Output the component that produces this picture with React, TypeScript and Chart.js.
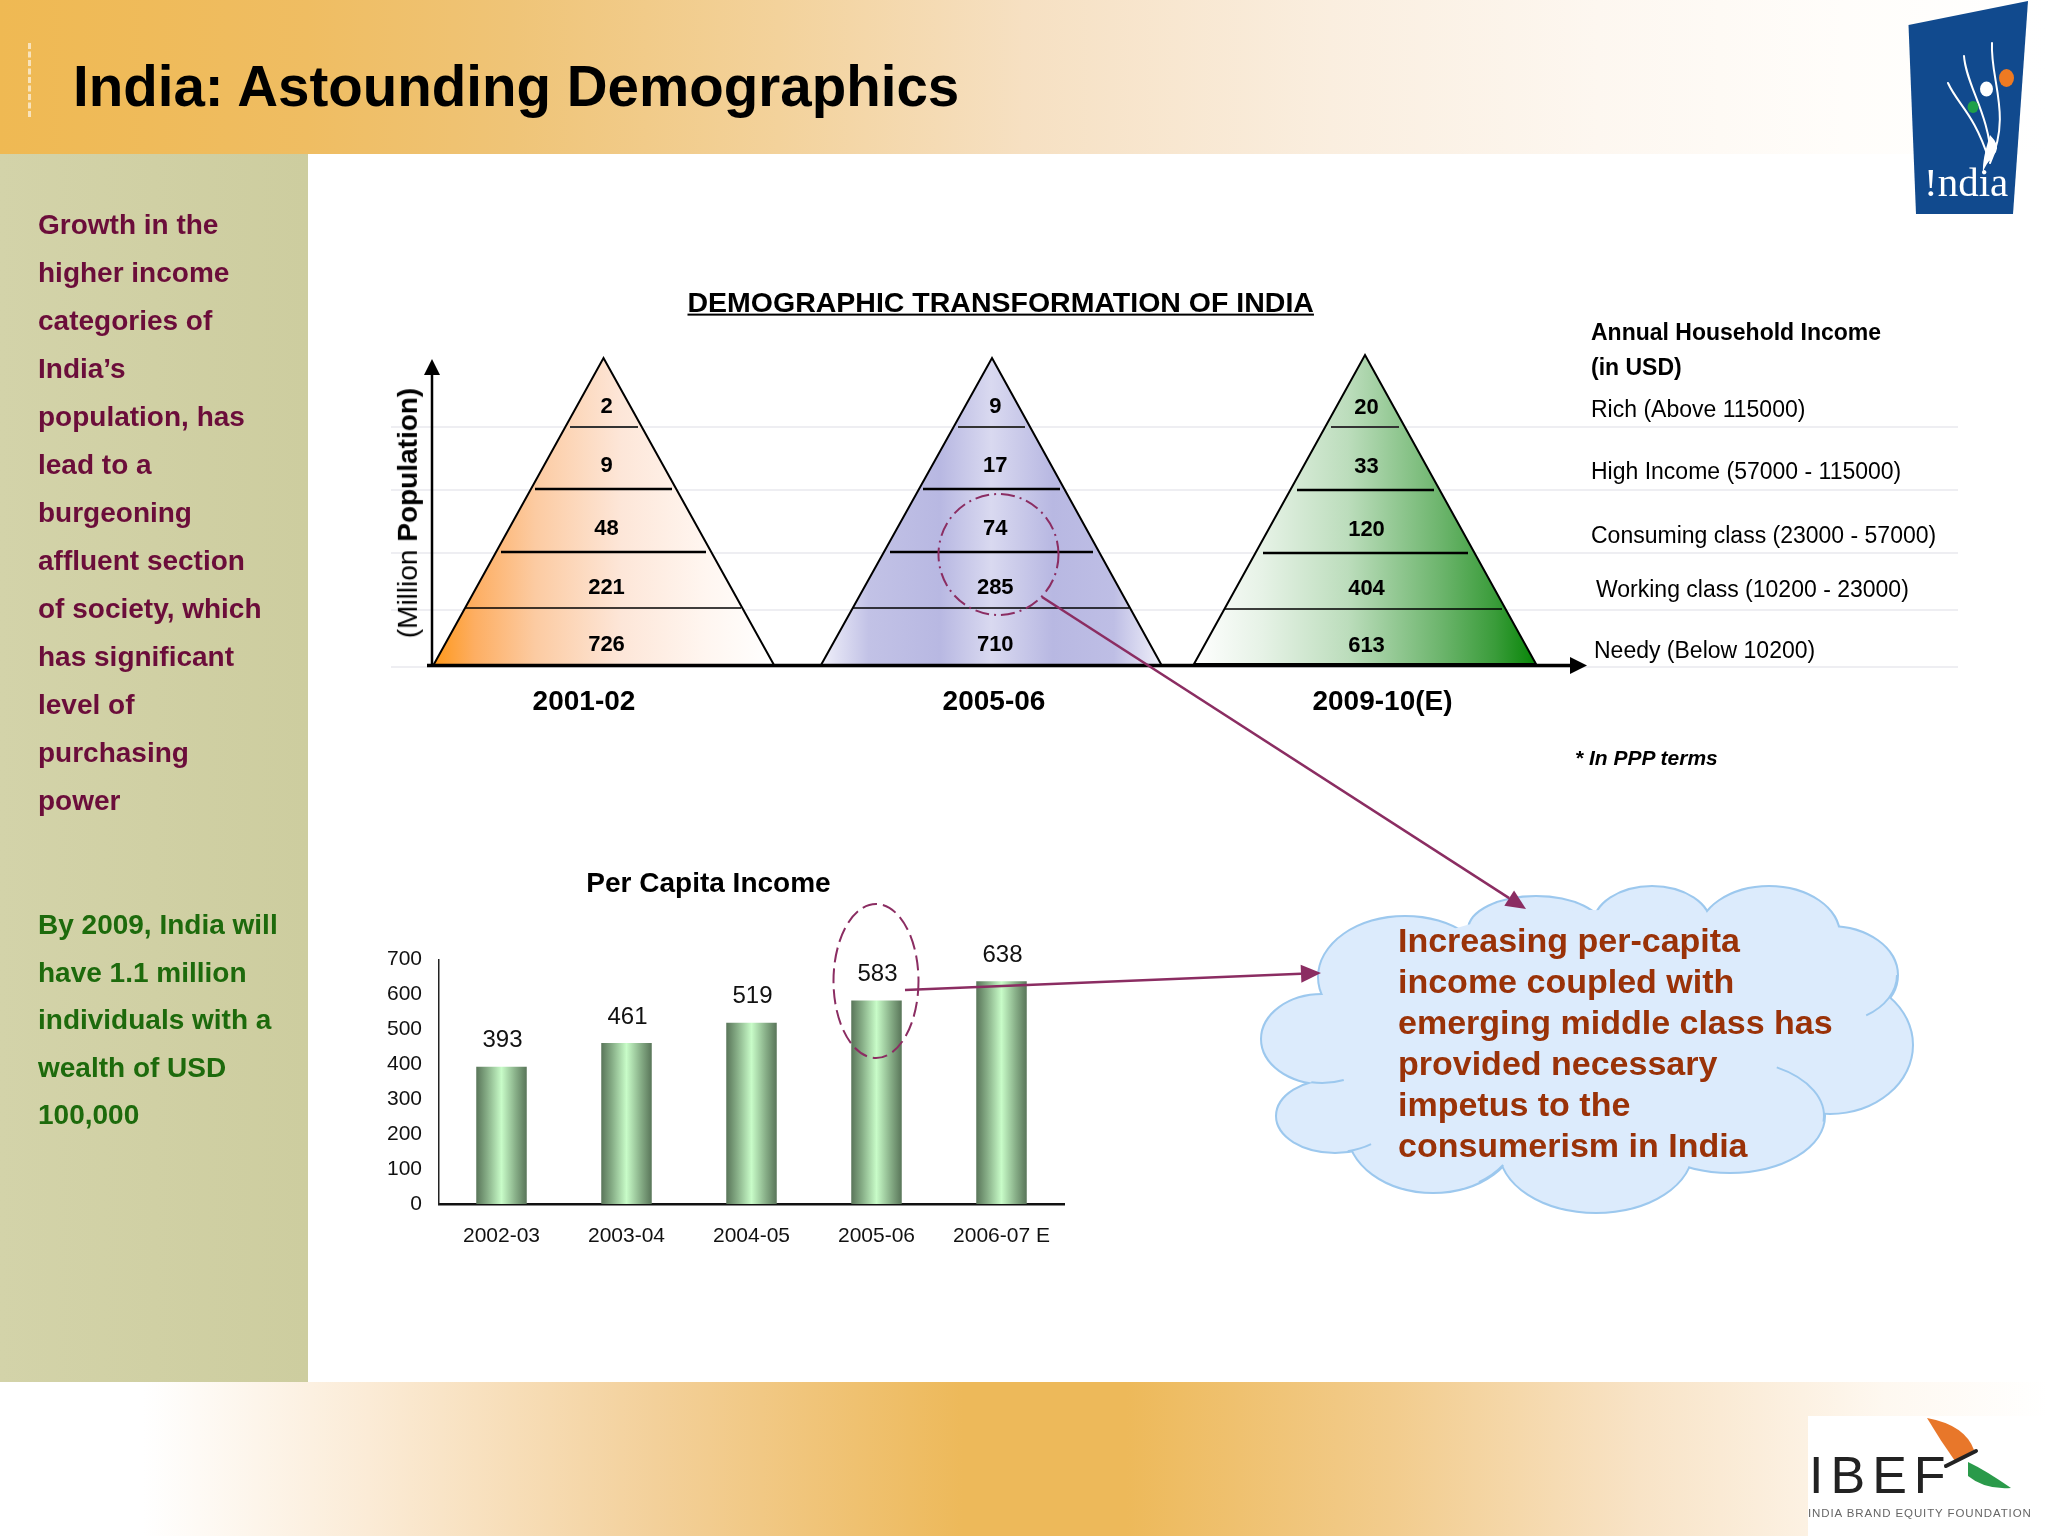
import React, { useEffect, useRef } from "react";
import { Chart, registerables } from "chart.js";

Chart.register(...registerables);

const FONT = '"Liberation Sans", Arial, sans-serif';

// ---- data ----
const periods = ["2001-02", "2005-06", "2009-10(E)"];
const incomeClasses = [
  "Rich (Above 115000)",
  "High Income (57000 - 115000)",
  "Consuming class (23000 - 57000)",
  "Working class (10200 - 23000)",
  "Needy (Below 10200)",
];
const pop2001 = [2, 9, 48, 221, 726];
const pop2005 = [9, 17, 74, 285, 710];
const pop2009 = [20, 33, 120, 404, 613];

const incomeYears = ["2002-03", "2003-04", "2004-05", "2005-06", "2006-07 E"];
const perCapitaIncome = [393, 461, 519, 583, 638];

const sideText = [
  "Growth in the",
  "higher income",
  "categories of",
  "India’s",
  "population, has",
  "lead to a",
  "burgeoning",
  "affluent section",
  "of society, which",
  "has significant",
  "level of",
  "purchasing",
  "power",
];
const sideText2 = [
  "By 2009, India will",
  "have 1.1 million",
  "individuals with a",
  "wealth of USD",
  "100,000",
];
const cloudText = [
  "Increasing per-capita",
  "income coupled with",
  "emerging middle class has",
  "provided necessary",
  "impetus to the",
  "consumerism in India",
];

// ---- pyramid figure layout (page pixels), separate from the data ----
const gridLevels = [427, 490, 553, 610, 667];
const pyrShape = [
  { cx: 603.5, l: 433.5, r: 774, top: 358, base: 665, rows: [[570, 638, 427], [535, 672, 489], [501, 706, 552], [465, 741, 608]] },
  { cx: 992, l: 821, r: 1161.5, top: 358, base: 665, rows: [[958, 1025, 427], [923, 1060, 489], [890, 1093, 552], [853, 1129, 608]] },
  { cx: 1365, l: 1194, r: 1536, top: 355, base: 664, rows: [[1331, 1399, 427], [1297, 1434, 490], [1263, 1468, 553], [1225, 1502, 609]] },
];
const pyrStops: [number, string][][] = [
  [[0, "#FF981A"], [0.12, "#FDAE62"], [0.3, "#FCCBA2"], [0.55, "#FDE6D8"], [0.8, "#FFF6F0"], [1, "#FFFFFF"]],
  [[0, "#F0F0FA"], [0.14, "#C2C2E6"], [0.35, "#B8B8E2"], [0.5, "#D9D9F0"], [0.68, "#B8B8E2"], [0.86, "#BEBEE5"], [1, "#F0F0FA"]],
  [[0, "#FFFFFF"], [0.2, "#E6F2E6"], [0.45, "#BCDDBC"], [0.72, "#6DB56D"], [0.88, "#3A9C3A"], [1, "#078507"]],
];
const valueY = [407, 466, 529, 588, 645];
const periodLabelX = [584, 994, 1382.5];

const pyramidPlugin = {
  id: "pyramids",
  afterDraw(chart: any) {
    const c = chart.ctx as CanvasRenderingContext2D;
    const xs = chart.scales.x;
    c.save();
    c.strokeStyle = "#E8E8EE";
    c.lineWidth = 1.5;
    gridLevels.forEach((y) => {
      c.beginPath();
      c.moveTo(391, y);
      c.lineTo(1958, y);
      c.stroke();
    });
    // axes
    c.strokeStyle = "#000";
    c.fillStyle = "#000";
    c.lineWidth = 2.5;
    c.beginPath();
    c.moveTo(432, 665);
    c.lineTo(432, 372);
    c.stroke();
    c.beginPath();
    c.moveTo(432, 359);
    c.lineTo(440, 375);
    c.lineTo(424, 375);
    c.closePath();
    c.fill();
    pyrShape.forEach((p, i) => {
      const g = c.createLinearGradient(p.l, 0, p.r, 0);
      pyrStops[i].forEach(([o, col]) => g.addColorStop(o, col));
      c.beginPath();
      c.moveTo(p.cx, p.top);
      c.lineTo(p.r, p.base);
      c.lineTo(p.l, p.base);
      c.closePath();
      c.fillStyle = g;
      c.fill();
      c.strokeStyle = "#000";
      c.lineWidth = 2;
      c.stroke();
      p.rows.forEach(([a, b, y], k) => {
        c.lineWidth = k === 0 ? 2 : k === 3 ? 1.6 : 2.5;
        c.strokeStyle = k === 0 ? "#333" : "#000";
        c.beginPath();
        c.moveTo(a, y);
        c.lineTo(b, y);
        c.stroke();
      });
    });
    c.strokeStyle = "#000";
    c.lineWidth = 3.5;
    c.beginPath();
    c.moveTo(427, 665.5);
    c.lineTo(1572, 665.5);
    c.stroke();
    c.fillStyle = "#000";
    c.beginPath();
    c.moveTo(1587, 665.5);
    c.lineTo(1570, 657);
    c.lineTo(1570, 674);
    c.closePath();
    c.fill();
    // value labels from the datasets
    c.textAlign = "center";
    c.textBaseline = "middle";
    c.font = `bold 22px ${FONT}`;
    chart.data.datasets.forEach((ds: any, row: number) => {
      ds.data.forEach((v: number, i: number) => {
        const base = xs.getPixelForValue(i);
        const nudge = [3, 11, 1.5][i];
        c.fillText(String(v), base + nudge, valueY[row] + (i === 2 ? 1 : 0));
      });
    });
    // period labels
    c.font = `bold 28px ${FONT}`;
    chart.data.labels.forEach((t: string, i: number) => c.fillText(t, periodLabelX[i], 702));
    // income classes
    c.textAlign = "left";
    c.font = `23px ${FONT}`;
    const ix = [1591, 1591, 1591, 1596, 1594];
    const iy = [411, 473, 537, 591, 652];
    incomeClasses.forEach((t, i) => c.fillText(t, ix[i], iy[i]));
    c.restore();
  },
};

const barLabelPlugin = {
  id: "barLabels",
  afterDatasetsDraw(chart: any) {
    const c = chart.ctx as CanvasRenderingContext2D;
    const meta = chart.getDatasetMeta(0);
    c.save();
    c.font = `24px ${FONT}`;
    c.fillStyle = "#111";
    c.textAlign = "center";
    c.textBaseline = "middle";
    meta.data.forEach((el: any, i: number) => {
      c.fillText(String(chart.data.datasets[0].data[i]), el.x + 1, el.y - 26);
    });
    c.restore();
  },
};

function ellipse(c: CanvasRenderingContext2D, x: number, y: number, rx: number, ry: number) {
  c.beginPath();
  c.ellipse(x, y, rx, ry, 0, 0, Math.PI * 2);
}

function arrow(c: CanvasRenderingContext2D, x0: number, y0: number, x1: number, y1: number) {
  const a = Math.atan2(y1 - y0, x1 - x0);
  const L = 20;
  const W = 9;
  const bx = x1 - L * Math.cos(a);
  const by = y1 - L * Math.sin(a);
  c.beginPath();
  c.moveTo(x0, y0);
  c.lineTo(bx, by);
  c.stroke();
  c.beginPath();
  c.moveTo(x1, y1);
  c.lineTo(bx - W * Math.sin(a), by + W * Math.cos(a));
  c.lineTo(bx + W * Math.sin(a), by - W * Math.cos(a));
  c.closePath();
  c.fill();
}

function drawCloud(c: CanvasRenderingContext2D) {
  const lobes = [
    [1405, 977, 86, 60],
    [1536, 930, 67, 33],
    [1652, 925, 58, 38],
    [1769, 935, 70, 48],
    [1830, 975, 67, 48],
    [1830, 1045, 82, 68],
    [1730, 1116, 94, 56],
    [1596, 1150, 96, 62],
    [1433, 1130, 85, 62],
    [1335, 1116, 58, 36],
    [1322, 1039, 60, 44],
  ];
  const fill = "#DCEBFC";
  const line = "#9CC8EE";
  c.save();
  c.strokeStyle = line;
  c.lineWidth = 4;
  lobes.forEach(([x, y, a, b]) => {
    ellipse(c, x, y, a, b);
    c.stroke();
  });
  c.fillStyle = fill;
  lobes.forEach(([x, y, a, b]) => {
    ellipse(c, x, y, a, b);
    c.fill();
  });
  ellipse(c, 1590, 1040, 265, 130);
  c.fill();
  // inner seams of the cloud
  c.lineWidth = 2;
  const seams = [
    [1730, 1116, 94, 56, -1.05, 0.1],
    [1830, 975, 67, 48, 0, 1.0],
    [1322, 1039, 60, 44, 1.2, 1.75],
    [1596, 1150, 96, 62, -0.15, 0.08],
    [1433, 1130, 85, 62, 0.6, 1.0],
    [1335, 1116, 58, 36, 0.9, 1.35],
  ];
  seams.forEach(([x, y, a, b, s, e]) => {
    c.beginPath();
    c.ellipse(x, y, a, b, 0, s, e);
    c.stroke();
  });
  c.restore();
}

function drawLogos(c: CanvasRenderingContext2D) {
  c.save();
  // !ndia logo
  c.fillStyle = "#114A8E";
  c.beginPath();
  c.moveTo(1908.5, 25);
  c.lineTo(2028, 1);
  c.lineTo(2013, 214);
  c.lineTo(1916, 214);
  c.closePath();
  c.fill();
  c.strokeStyle = "#fff";
  c.lineCap = "round";
  c.lineWidth = 2;
  const curves = [
    [1948, 83, 1958, 105, 1974, 113, 1989, 160],
    [1964, 56, 1966, 85, 1990, 115, 1991, 160],
    [1992, 43, 1990, 80, 2012, 115, 1990, 163],
  ];
  curves.forEach(([a, b, d, e, f, g, h, i]) => {
    c.beginPath();
    c.moveTo(a, b);
    c.bezierCurveTo(d, e, f, g, h, i);
    c.stroke();
  });
  c.fillStyle = "#fff";
  c.beginPath();
  c.moveTo(1990, 135);
  c.quadraticCurveTo(2000, 145, 1996, 152);
  c.quadraticCurveTo(1985, 165, 1983, 172);
  c.quadraticCurveTo(1982, 160, 1990, 135);
  c.fill();
  c.fillStyle = "#EE7A22";
  ellipse(c, 2006.5, 78, 7.5, 9);
  c.fill();
  c.fillStyle = "#fff";
  ellipse(c, 1986.5, 89, 6.5, 7.5);
  c.fill();
  c.fillStyle = "#1FA04A";
  ellipse(c, 1973, 107, 5.5, 6);
  c.fill();
  // IBEF logo
  c.fillStyle = "#fff";
  c.fillRect(1808, 1416, 240, 120);
  c.fillStyle = "#E8772A";
  c.beginPath();
  c.moveTo(1927, 1418);
  c.quadraticCurveTo(1965, 1425, 1974, 1450);
  c.lineTo(1955, 1461);
  c.quadraticCurveTo(1940, 1440, 1927, 1418);
  c.fill();
  c.fillStyle = "#2A9A4A";
  c.beginPath();
  c.moveTo(1968, 1462);
  c.quadraticCurveTo(1985, 1470, 2011, 1488);
  c.quadraticCurveTo(1985, 1490, 1968, 1476);
  c.closePath();
  c.fill();
  c.strokeStyle = "#222";
  c.lineWidth = 4;
  c.beginPath();
  c.moveTo(1946, 1466);
  c.lineTo(1976, 1451);
  c.stroke();
  c.restore();
}

function drawAnnotations(c: CanvasRenderingContext2D) {
  drawCloud(c);
  drawLogos(c);
  c.save();
  const plum = "#8B2D62";
  c.strokeStyle = plum;
  c.fillStyle = plum;
  c.lineWidth = 2;
  c.setLineDash([14, 5, 2, 5]);
  ellipse(c, 998.5, 554.5, 60, 60.5);
  c.stroke();
  c.setLineDash([15, 6]);
  ellipse(c, 876, 981, 42.5, 77);
  c.stroke();
  c.setLineDash([]);
  c.lineWidth = 2.5;
  arrow(c, 1042, 597, 1526, 909);
  arrow(c, 905, 990, 1321, 973);
  c.restore();
}

function Txt(props: { x: number; y: number; s: number; b?: boolean; i?: boolean; c?: string; center?: boolean; u?: boolean; children: any; f?: string; ls?: number }) {
  const { x, y, s, b, i, c, center, u, children, f, ls } = props;
  return (
    <div
      style={{
        position: "absolute",
        left: x,
        top: y,
        transform: center ? "translate(-50%,-50%)" : "translateY(-50%)",
        fontFamily: f || FONT,
        fontSize: s,
        fontWeight: b ? 700 : 400,
        fontStyle: i ? "italic" : "normal",
        color: c || "#000",
        whiteSpace: "nowrap",
        lineHeight: 1.15,
        letterSpacing: ls,
        textDecoration: u ? "underline" : "none",
      }}
    >
      {children}
    </div>
  );
}

const layer: any = { position: "absolute", left: 0, top: 0 };

export default function App() {
  const pyrRef = useRef<HTMLCanvasElement>(null);
  const barRef = useRef<HTMLCanvasElement>(null);
  const annRef = useRef<HTMLCanvasElement>(null);

  useEffect(() => {
    const pyr = new Chart(pyrRef.current!, {
      type: "line",
      data: {
        labels: periods,
        datasets: incomeClasses.map((label, r) => ({
          label,
          data: [pop2001[r], pop2005[r], pop2009[r]],
          showLine: false,
          pointRadius: 0,
        })),
      },
      options: {
        animation: false,
        responsive: false,
        layout: { padding: { left: 603.5, right: 683, top: 358, bottom: 871 } },
        plugins: { legend: { display: false }, tooltip: { enabled: false } },
        scales: {
          x: { display: false },
          y: { display: false, min: 0, max: 800 },
        },
      },
      plugins: [pyramidPlugin],
    } as any);

    const bar = new Chart(barRef.current!, {
      type: "bar",
      data: {
        labels: incomeYears,
        datasets: [
          {
            label: "Per Capita Income",
            data: perCapitaIncome,
            barPercentage: 0.404,
            categoryPercentage: 1,
            backgroundColor: (ctx: any) => {
              const x = ctx.dataIndex === undefined ? NaN : ctx.chart.scales.x?.getPixelForValue(ctx.dataIndex);
              if (!Number.isFinite(x)) return "#9CCB9C";
              const g = ctx.chart.ctx.createLinearGradient(x - 25.5, 0, x + 25.5, 0);
              g.addColorStop(0, "#587458");
              g.addColorStop(0.22, "#87AE87");
              g.addColorStop(0.5, "#C8FCC8");
              g.addColorStop(0.78, "#87AE87");
              g.addColorStop(1, "#587458");
              return g;
            },
          },
        ],
      },
      options: {
        animation: false,
        responsive: false,
        layout: { padding: { left: 0, top: 23, right: 26, bottom: 0 } },
        plugins: { legend: { display: false }, tooltip: { enabled: false } },
        scales: {
          x: {
            afterFit: (s: any) => { s.height = 66; },
            grid: { display: false, drawTicks: false },
            border: { display: true, color: "#111", width: 2.5 },
            ticks: { font: { family: FONT, size: 21 }, color: "#111", padding: 20, maxRotation: 0, autoSkip: false },
          },
          y: {
            min: 0,
            max: 700,
            afterFit: (s: any) => { s.width = 69; },
            grid: { display: false, drawTicks: false },
            border: { display: true, color: "#222", width: 1.5 },
            ticks: { stepSize: 100, font: { family: FONT, size: 21 }, color: "#111", padding: 17 },
          },
        },
      },
      plugins: [barLabelPlugin],
    } as any);

    const c = annRef.current!.getContext("2d")!;
    c.clearRect(0, 0, 2048, 1536);
    drawAnnotations(c);

    return () => {
      pyr.destroy();
      bar.destroy();
    };
  }, []);

  return (
    <div style={{ position: "absolute", left: 0, top: 0, width: 2048, height: 1536, overflow: "hidden", background: "#fff" }}>
      <div style={{ ...layer, width: 2048, height: 154, background: "linear-gradient(90deg,#EFB953 0%,#EFBD62 15%,#EFC477 25%,#F3D29B 38%,#F6E0C2 50%,#FAEEDF 65%,#FDF7F0 78%,#FFFDFA 90%,#FFFFFF 100%)" }} />
      <div style={{ ...layer, top: 154, width: 308, height: 1228, background: "linear-gradient(90deg,#D3D3A9,#CDCD9F)" }} />
      <div style={{ ...layer, top: 1382, width: 2048, height: 154, background: "linear-gradient(90deg,#FFFFFF 7%,#FBEBD6 18%,#F3D09A 32%,#EDB95A 47%,#EDB95A 55%,#F2CC8D 68%,#F8E3C6 80%,#FEF8F0 92%,#FFFFFF 100%)" }} />
      <div style={{ ...layer, left: 28, top: 43, width: 0, height: 74, borderLeft: "3px dashed #F8E3BC" }} />

      <canvas ref={pyrRef} width={2048} height={1536} style={{ ...layer, width: 2048, height: 1536 }} />
      <canvas ref={barRef} width={720} height={340} style={{ ...layer, left: 370, top: 930, width: 720, height: 340 }} />
      <canvas ref={annRef} width={2048} height={1536} style={{ ...layer, width: 2048, height: 1536 }} />

      <Txt x={73} y={87} s={56.5} b>India: Astounding Demographics</Txt>
      {sideText.map((t, i) => (
        <Txt key={t} x={38} y={225 + i * 48} s={28} b c="#6B0D3A">{t}</Txt>
      ))}
      {sideText2.map((t, i) => (
        <Txt key={t} x={38} y={925 + i * 47.5} s={28} b c="#1D6A0C">{t}</Txt>
      ))}
      <Txt x={687.5} y={302} s={28.5} b u>DEMOGRAPHIC TRANSFORMATION OF INDIA</Txt>
      <Txt x={1591} y={332} s={23} b>Annual Household Income</Txt>
      <Txt x={1591} y={367} s={23} b>(in USD)</Txt>
      <Txt x={1575} y={758} s={21} b i>* In PPP terms</Txt>
      <Txt x={708.5} y={883} s={28} b center>Per Capita Income</Txt>
      <div style={{ position: "absolute", left: 408, top: 513, transform: "translate(-50%,-50%) rotate(-90deg)", fontFamily: FONT, fontSize: 28, whiteSpace: "nowrap", lineHeight: 1.15 }}>
        (Million <b>Population)</b>
      </div>
      {cloudText.map((t, i) => (
        <Txt key={t} x={1398} y={941 + i * 41} s={34} b c="#9A3208">{t}</Txt>
      ))}
      <Txt x={1924} y={183} s={41} c="#fff" f='"Liberation Serif", serif'>!ndia</Txt>
      <Txt x={1809} y={1476} s={52} c="#222" ls={7}>IBEF</Txt>
      <Txt x={1808} y={1514} s={11.5} c="#666" ls={0.9}>INDIA BRAND EQUITY FOUNDATION</Txt>
    </div>
  );
}
